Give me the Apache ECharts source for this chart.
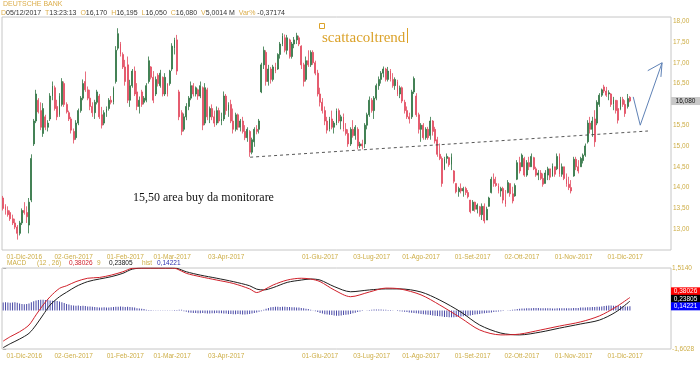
<!DOCTYPE html>
<html><head><meta charset="utf-8">
<script src="https://cdn.jsdelivr.net/npm/echarts@6.0.0/dist/echarts.min.js"></script>
<style>html,body{margin:0;padding:0;background:#fff}#c{width:700px;height:365px}</style>
</head><body><div id="c"></div>
<script>
// ---------- DATA ----------
const opens = [
13.75,13.55,13.45,13.40,13.25,13.15,13.05,12.90,13.15,13.45,
13.40,13.10,13.70,15.05,15.60,16.10,15.85,15.30,15.70,15.45,
15.65,16.20,16.40,15.95,15.75,16.00,16.50,16.00,15.80,15.65,
15.35,15.20,15.55,15.85,16.15,16.55,16.35,16.15,15.95,15.80,
16.05,16.20,15.75,15.55,15.80,15.90,16.10,16.05,16.55,17.35,
17.45,17.20,16.90,16.95,16.10,16.45,16.80,16.30,15.95,16.30,
16.05,16.10,16.55,16.90,16.65,16.25,16.70,16.45,16.65,16.25,
16.50,16.50,16.85,17.35,17.55,16.30,15.80,15.40,15.70,15.95,
16.15,16.45,16.25,16.35,16.20,16.40,15.55,16.35,15.70,15.90,
15.70,15.55,15.85,15.60,15.65,16.20,15.85,16.00,15.60,15.40,
15.75,15.45,15.60,15.35,15.20,15.35,14.85,15.10,15.40,15.40,
16.30,16.95,17.25,16.55,16.85,16.60,16.90,16.85,17.20,17.45,
17.60,17.30,17.55,17.15,17.45,17.55,17.60,17.40,16.95,16.60,
17.05,16.95,17.25,17.00,16.75,16.25,16.05,15.85,15.60,15.40,
15.65,15.45,15.55,15.85,15.60,15.70,15.40,15.30,15.05,15.40,
15.25,15.40,15.00,15.05,15.05,15.50,15.75,16.10,15.85,16.15,
16.45,16.60,16.75,16.85,16.60,16.80,16.60,16.45,16.55,16.25,
16.40,16.05,15.85,15.70,15.70,16.30,16.20,15.75,15.40,15.50,
15.20,15.40,15.25,15.60,15.40,15.15,14.80,14.70,14.45,14.70,
14.72,14.55,14.40,14.10,13.90,13.98,13.92,13.98,13.88,13.70,
13.45,13.65,13.48,13.54,13.35,13.55,13.22,13.55,13.88,14.20,
14.10,14.05,13.92,13.98,13.70,13.88,14.10,13.85,13.80,14.20,
14.60,14.50,14.70,14.30,14.60,14.50,14.72,14.45,14.30,14.35,
14.22,14.10,14.30,14.45,14.28,14.50,14.45,14.75,14.32,14.50,
14.22,14.08,14.00,14.28,14.68,14.50,14.50,14.65,14.78,15.10,
15.55,15.40,15.65,15.55,16.00,16.22,16.42,16.32,16.25,16.25,
16.00,16.10,15.90,15.88,16.12,16.00,15.95,16.17];
const highs = [
13.80,13.60,13.55,13.45,13.35,13.25,13.10,13.20,13.50,13.65,
13.55,13.75,14.80,15.65,16.35,16.15,16.05,16.03,15.75,15.62,
16.27,16.55,16.45,16.11,16.27,16.63,16.55,16.05,15.85,15.70,
15.42,15.62,15.90,16.20,16.60,16.79,16.43,16.35,16.05,16.11,
16.35,16.25,15.94,15.86,15.95,16.15,16.20,16.43,17.40,17.83,
17.50,17.25,17.07,17.15,16.59,16.85,16.91,16.51,16.19,16.35,
16.20,16.51,17.15,16.92,16.80,16.67,16.75,16.83,16.67,16.75,
16.51,16.83,17.47,17.60,17.67,16.35,15.86,15.78,16.03,16.20,
16.55,16.51,16.43,16.38,16.55,16.43,16.51,16.40,15.95,16.00,
15.85,15.95,15.92,15.80,16.31,16.25,16.05,16.11,15.90,15.80,
15.78,15.65,15.70,15.50,15.45,15.38,15.20,15.45,15.50,15.65,
17.00,17.39,17.30,16.95,16.90,16.95,17.00,17.23,17.50,17.71,
17.68,17.67,17.58,17.50,17.62,17.72,17.65,17.42,17.00,17.15,
17.30,17.30,17.30,17.05,16.83,16.40,16.15,15.95,15.70,15.70,
15.85,15.60,15.90,15.90,15.75,15.78,15.55,15.40,15.45,15.62,
15.50,15.45,15.10,15.15,15.55,15.80,16.19,16.15,16.20,16.50,
16.67,16.80,16.91,16.88,16.90,16.85,16.75,16.65,16.59,16.45,
16.43,16.11,15.95,15.80,16.35,16.67,16.27,15.80,15.55,15.55,
15.45,15.46,15.70,15.62,15.46,15.22,15.06,14.75,14.74,14.82,
14.74,14.82,14.42,14.10,14.02,14.10,14.02,14.02,13.94,13.70,
13.70,13.66,13.62,13.56,13.62,13.62,13.54,13.78,14.26,14.34,
14.26,14.10,14.02,14.02,13.94,14.18,14.10,14.02,14.10,14.66,
14.74,14.82,14.74,14.66,14.74,14.82,14.74,14.50,14.42,14.42,
14.34,14.42,14.50,14.45,14.58,14.50,14.82,14.82,14.58,14.50,
14.34,14.26,14.18,14.74,14.74,14.66,14.74,14.82,15.06,15.62,
15.70,15.70,15.86,16.10,16.27,16.38,16.47,16.42,16.34,16.27,
16.18,16.10,16.10,16.18,16.18,16.10,16.25,16.195];
const lows = [
13.45,13.35,13.30,13.20,13.10,13.00,12.75,12.85,13.10,13.35,
13.15,12.90,13.65,15.00,15.55,15.78,15.38,15.22,15.38,15.35,
15.60,16.10,15.85,15.62,15.70,15.95,15.94,15.78,15.60,15.30,
15.06,15.15,15.50,15.80,16.10,16.30,16.10,15.86,15.70,15.65,
16.00,15.65,15.42,15.50,15.70,15.85,16.00,16.00,16.50,17.30,
17.15,16.85,16.45,16.03,15.94,16.40,16.20,15.86,15.78,15.94,
16.00,16.05,16.50,16.60,16.03,16.20,16.43,16.40,16.19,16.20,
16.19,16.45,16.80,17.20,16.71,15.62,15.26,15.35,15.62,15.86,
16.10,16.19,16.19,16.11,16.15,15.38,15.50,15.62,15.55,15.62,
15.46,15.50,15.55,15.50,15.60,15.75,15.70,15.55,15.30,15.35,
15.38,15.35,15.30,15.14,15.10,14.74,14.80,14.98,15.28,15.30,
16.27,16.85,16.45,16.45,16.50,16.55,16.75,16.83,17.10,17.40,
17.25,17.20,17.10,17.10,17.35,17.45,17.40,16.85,16.43,16.55,
16.90,16.90,16.95,16.70,16.19,15.95,15.78,15.50,15.30,15.35,
15.40,15.30,15.50,15.55,15.40,15.35,15.25,14.98,15.00,15.20,
15.15,14.92,14.95,14.92,14.95,15.40,15.70,15.80,15.65,16.10,
16.35,16.50,16.65,16.55,16.55,16.55,16.40,16.35,16.20,16.15,
16.03,15.78,15.65,15.54,15.65,16.25,15.70,15.30,15.10,15.15,
15.15,15.15,15.15,15.25,15.06,14.74,14.66,14.02,14.42,14.58,
14.50,14.42,14.10,13.86,13.78,13.86,13.78,13.82,13.74,13.38,
13.45,13.42,13.38,13.30,13.22,13.14,13.22,13.54,13.86,14.02,
14.02,13.86,13.78,13.62,13.54,13.86,13.78,13.62,13.78,14.18,
14.34,14.50,14.26,14.26,14.42,14.50,14.42,14.26,14.18,14.18,
14.02,14.10,14.18,14.18,14.26,14.26,14.42,14.26,14.26,14.18,
14.02,13.94,13.86,14.26,14.42,14.34,14.50,14.58,14.74,15.06,
15.30,15.22,14.98,15.50,15.94,16.18,16.27,16.18,16.10,15.94,
15.86,15.78,15.54,15.86,15.94,15.70,15.90,16.05];
const closes = [
13.50,13.45,13.35,13.25,13.15,13.05,12.90,13.15,13.45,13.40,
13.30,13.65,14.70,15.60,16.25,15.82,15.45,15.90,15.45,15.55,
16.20,16.45,15.90,15.70,16.20,16.55,16.00,15.82,15.65,15.38,
15.15,15.55,15.85,16.15,16.50,16.35,16.15,15.95,15.80,16.05,
16.30,15.70,15.50,15.80,15.90,16.10,16.05,16.40,17.30,17.70,
17.20,16.90,16.55,16.10,16.45,16.80,16.25,15.95,16.10,16.00,
16.15,16.45,17.05,16.65,16.10,16.60,16.50,16.75,16.25,16.65,
16.25,16.80,17.40,17.55,16.80,15.70,15.35,15.70,15.95,16.15,
16.45,16.25,16.40,16.20,16.45,15.50,16.40,15.70,15.90,15.70,
15.55,15.85,15.60,15.65,16.20,15.85,16.00,15.60,15.40,15.75,
15.45,15.60,15.35,15.20,15.40,14.85,15.15,15.40,15.35,15.60,
16.95,17.30,16.55,16.85,16.60,16.90,16.80,17.20,17.45,17.65,
17.30,17.60,17.15,17.45,17.55,17.65,17.45,16.95,16.55,17.05,
16.95,17.25,17.00,16.75,16.25,16.05,15.85,15.60,15.38,15.65,
15.45,15.55,15.85,15.60,15.70,15.40,15.30,15.05,15.40,15.25,
15.45,15.00,15.05,15.00,15.50,15.75,16.10,15.85,16.15,16.45,
16.60,16.75,16.85,16.60,16.80,16.60,16.45,16.60,16.25,16.40,
16.08,15.85,15.70,15.65,16.30,16.62,15.75,15.40,15.50,15.20,
15.40,15.20,15.60,15.35,15.12,14.80,14.70,14.10,14.70,14.75,
14.55,14.75,14.15,13.90,13.98,13.92,13.98,13.88,13.78,13.42,
13.65,13.48,13.58,13.35,13.55,13.20,13.48,13.75,14.20,14.10,
14.05,13.92,13.98,13.70,13.60,14.12,13.85,13.68,14.05,14.60,
14.40,14.78,14.30,14.60,14.50,14.75,14.45,14.30,14.35,14.22,
14.08,14.35,14.45,14.25,14.52,14.32,14.75,14.32,14.50,14.22,
14.08,14.00,13.92,14.68,14.50,14.40,14.70,14.78,15.00,15.55,
15.40,15.60,15.10,16.05,16.22,16.35,16.32,16.22,16.28,16.00,
16.12,15.85,15.62,16.12,16.00,15.78,16.14,16.08];

// MACD (red) and signal (black) read at bar positions [barIndex, value]
const macdLine = [[0,-1.30],[3,-1.13],[7,-0.94],[11,-0.68],[14,-0.29],[17,0.09],[20,0.41],[24,0.73],[27,0.83],[31,0.99],[36,1.12],[41,1.15],[46,1.24],[51,1.37],[55,1.50],[60,1.51],[72,1.51],[74,1.48],[78,1.31],[84,1.18],[91,1.05],[98,0.92],[105,0.71],[108,0.57],[111,0.67],[115,0.86],[121,1.05],[127,1.12],[131,1.09],[135,0.99],[141,0.67],[148,0.41],[156,0.59],[163,0.74],[169,0.71],[178,0.48],[186,0.09],[195,-0.41],[203,-0.87],[212,-1.06],[220,-1.03],[229,-0.87],[237,-0.72],[246,-0.56],[254,-0.33],[261,0.01],[267,0.38026]];
const signalLine = [[0,-1.55],[3,-1.40],[7,-1.22],[11,-1.00],[14,-0.68],[17,-0.29],[20,0.09],[24,0.41],[27,0.58],[31,0.80],[36,0.99],[41,1.09],[46,1.18],[51,1.31],[55,1.47],[60,1.51],[72,1.51],[74,1.50],[78,1.37],[84,1.24],[91,1.12],[98,0.99],[105,0.83],[108,0.70],[111,0.67],[115,0.76],[121,0.96],[127,1.05],[131,1.09],[135,1.05],[141,0.80],[148,0.60],[156,0.67],[163,0.71],[169,0.71],[178,0.59],[186,0.28],[195,-0.18],[203,-0.68],[212,-0.99],[220,-1.06],[229,-0.95],[237,-0.80],[246,-0.64],[254,-0.49],[261,-0.18],[267,0.23805]];
const histValues = [
0.27,0.28,0.27,0.26,0.27,0.28,0.26,0.24,0.22,0.21,0.22,0.24,0.28,
0.31,0.34,0.35,0.36,0.36,0.35,0.36,0.34,0.33,0.34,0.32,0.30,0.28,
0.25,0.22,0.20,0.18,0.17,0.16,0.17,0.15,0.16,0.15,0.14,0.14,0.13,
0.12,0.11,0.10,0.10,0.11,0.10,0.10,0.11,
0.12,0.13,0.13,0.14,0.13,0.12,0.13,0.12,0.11,0.10,
0.08,0.07,0.06,0.05,
0.03,0.02,0.02,0.01,0.01,0.01,0.01,0.01,0.01,0.01,0.01,0.01,0.02,0.02,0.03,0.03,
-0.02,-0.04,-0.06,-0.07,-0.08,-0.08,-0.09,-0.09,-0.08,-0.09,-0.10,-0.10,-0.09,-0.09,-0.08,-0.09,-0.09,-0.10,-0.10,-0.11,-0.11,-0.12,-0.12,-0.11,-0.12,-0.13,-0.13,-0.12,-0.11,-0.10,-0.08,-0.06,-0.04,-0.02,
0.03,0.06,0.09,0.11,0.12,0.13,0.13,0.12,0.13,0.13,0.12,0.12,0.11,0.11,0.10,0.10,0.09,0.08,0.06,0.05,0.03,0.01,
-0.02,-0.05,-0.08,-0.10,-0.12,-0.13,-0.14,-0.15,-0.16,-0.17,-0.17,-0.16,-0.15,-0.14,-0.13,-0.11,
-0.09,-0.07,-0.05,-0.03,-0.01,0.00,0.01,0.02,0.03,0.04,0.04,0.04,0.04,0.03,0.03,0.02,0.02,0.01,0.00,-0.01,-0.02,-0.03,
-0.04,-0.05,-0.06,-0.07,-0.08,-0.09,-0.10,-0.11,-0.12,-0.13,-0.14,-0.15,-0.16,-0.17,-0.18,-0.19,-0.20,-0.21,-0.21,-0.22,-0.22,-0.22,-0.21,-0.21,-0.20,-0.19,-0.18,-0.17,-0.16,-0.15,-0.13,-0.12,-0.11,-0.10,-0.09,-0.08,-0.07,-0.06,-0.05,-0.04,-0.03,
-0.02,-0.01,0.00,0.01,0.02,0.03,0.04,0.05,0.06,0.07,0.07,0.08,0.08,0.08,0.09,0.09,0.09,0.08,0.08,0.08,0.08,0.08,0.07,0.07,0.08,0.08,0.08,0.08,0.08,0.08,0.08,0.09,0.09,0.09,0.10,0.10,0.10,0.11,0.11,0.12,0.12,0.13,0.13,0.14,0.15,0.16,0.17,0.17,0.16,0.16,0.15,0.15,0.14,0.14,0.14,0.14221];

const tickLabels = ['01-Dic-2016','02-Gen-2017','01-Feb-2017','01-Mar-2017','03-Apr-2017','01-Giu-2017','03-Lug-2017','01-Ago-2017','01-Set-2017','02-Ott-2017','01-Nov-2017','01-Dic-2017'];
const holidays = ['2016-12-26','2017-04-14','2017-04-17','2017-05-01','2017-08-15','2017-12-25','2017-12-26','2018-01-01'];
const monthNames = ['Gen','Feb','Mar','Apr','Mag','Giu','Lug','Ago','Set','Ott','Nov','Dic'];
const firstDay = '2016-11-18';
const futureBars = 17;
const macdRange = [-1.6028, 1.5140];
const histRange = [-1.28, 1.42];
// hand-drawn annotations, in [barIndex, price]
const trendLine = [[105.2,14.73],[274.7,15.36]];
const arrowPath = [[268.4,16.18],[271.4,15.50],[280.7,17.00]];
const arrowHeadA = [[274.6,16.81],[280.7,17.00]];
const arrowHeadB = [[280.2,16.66],[280.7,17.00]];

// ---------- BUILD ----------
function tradingDays(startISO, count) {
  const out = [];
  const d = new Date(startISO + 'T00:00:00Z');
  while (out.length < count) {
    const dow = d.getUTCDay();
    const iso = d.toISOString().slice(0, 10);
    if (dow !== 0 && dow !== 6 && holidays.indexOf(iso) < 0) {
      out.push(String(d.getUTCDate()).padStart(2,'0') + '-' + monthNames[d.getUTCMonth()] + '-' + d.getUTCFullYear());
    }
    d.setUTCDate(d.getUTCDate() + 1);
  }
  return out;
}
const cats = tradingDays(firstDay, closes.length + futureBars);
const candles = closes.map((c, i) => [opens[i], c, lows[i], highs[i]]);
const last = closes.length - 1;
const GOLD = '#cdad45';
const HGOLD = '#dcae4c';
const SANS = '"Liberation Sans", Arial, sans-serif';
const SERIF = '"Liberation Serif", "Times New Roman", serif';
const fmt = (v, d) => v.toFixed(d).replace('.', ',');
const UP = '#2f7443', DOWN = '#e24a5e';

const catAxis = (g) => ({
  type: 'category', gridIndex: g, data: cats,
  axisLine: {show: false}, axisTick: {show: false}, splitLine: {show: false},
  axisLabel: {interval: (i, v) => tickLabels.indexOf(v) >= 0, color: GOLD, fontSize: 6.5, fontFamily: SANS, margin: 4}
});
const valX = (g) => ({type: 'value', gridIndex: g, min: -0.5, max: cats.length - 0.5, show: false});

const chart = echarts.init(document.getElementById('c'), null, {renderer: 'canvas'});
chart.setOption({
  animation: false,
  backgroundColor: '#ffffff',
  grid: [
    {left: 2, right: 29, top: 17, height: 233, show: true, borderColor: '#c6c6c6', borderWidth: 1, outerBoundsMode: 'none'},
    {left: 2, right: 29, top: 268, height: 81, show: true, borderColor: '#c6c6c6', borderWidth: 1, outerBoundsMode: 'none'}
  ],
  xAxis: [catAxis(0), catAxis(1), valX(0), valX(1)],
  yAxis: [
    {type: 'value', gridIndex: 0, position: 'right', min: 12.5, max: 18.1, interval: 0.5,
     axisLine: {show: false}, axisTick: {show: false}, splitLine: {show: false},
     axisLabel: {color: GOLD, fontSize: 6.5, fontFamily: SANS, margin: 2,
       formatter: v => (v < 12.9 || v > 18.01 || Math.abs(v - 16) < 1e-6) ? '' : fmt(v, 2)}},
    {type: 'value', gridIndex: 1, position: 'right', min: macdRange[0], max: macdRange[1], interval: macdRange[1] - macdRange[0],
     axisLine: {show: false}, axisTick: {show: true, length: 3, lineStyle: {color: '#b0b0b0'}}, splitLine: {show: false},
     axisLabel: {color: GOLD, fontSize: 6.5, fontFamily: SANS, margin: 1, formatter: v => fmt(v, 4)}},
    {type: 'value', gridIndex: 1, position: 'left', min: histRange[0], max: histRange[1], show: false}
  ],
  series: [
    {type: 'candlestick', xAxisIndex: 0, yAxisIndex: 0, data: candles, barWidth: 1.4,
     itemStyle: {color: UP, color0: DOWN, borderColor: UP, borderColor0: DOWN, borderWidth: 0.8}},
    {type: 'line', xAxisIndex: 2, yAxisIndex: 0, data: trendLine, symbol: 'none', silent: true,
     lineStyle: {color: '#444', width: 0.9, type: [3, 3]}},
    {type: 'line', xAxisIndex: 2, yAxisIndex: 0, data: arrowPath, symbol: 'none', silent: true,
     lineStyle: {color: '#5f82b6', width: 1}},
    {type: 'line', xAxisIndex: 2, yAxisIndex: 0, data: arrowHeadA, symbol: 'none', silent: true,
     lineStyle: {color: '#5f82b6', width: 1}},
    {type: 'line', xAxisIndex: 2, yAxisIndex: 0, data: arrowHeadB, symbol: 'none', silent: true,
     lineStyle: {color: '#5f82b6', width: 1}},
    {type: 'bar', xAxisIndex: 1, yAxisIndex: 2, data: histValues, barWidth: 1, silent: true,
     itemStyle: {color: '#4848a6'}},
    {type: 'line', xAxisIndex: 3, yAxisIndex: 1, data: signalLine, symbol: 'none', smooth: 0.3, silent: true,
     lineStyle: {color: '#1e1e1e', width: 1}},
    {type: 'line', xAxisIndex: 3, yAxisIndex: 1, data: macdLine, symbol: 'none', smooth: 0.3, silent: true,
     lineStyle: {color: '#d0202a', width: 1}}
  ]
});

// ---------- TEXT & BADGES ----------
const yHist = chart.convertToPixel({yAxisIndex: 2}, histValues[last]);
const yClose = chart.convertToPixel({yAxisIndex: 0}, closes[last]);
const badge = (cy, bg, fg, txtS) => ([
  {type: 'rect', shape: {x: 671, y: cy - 4, width: 29, height: 8}, style: {fill: bg}, silent: true, z: 100},
  {type: 'text', x: 685.5, y: cy, z: 101, style: {text: txtS, fill: fg, font: '6.5px ' + SANS, align: 'center', verticalAlign: 'middle'}, silent: true}
]);
const macdLast = macdLine[macdLine.length - 1][1];
const sigLast = signalLine[signalLine.length - 1][1];
const txt = (x, y, s, fill, font) => ({type: 'text', x: x, y: y, silent: true,
  style: {text: s, fill: fill, font: font || ('6.5px ' + SANS), verticalAlign: 'middle'}});

const graphics = [
  txt(3, 4, 'DEUTSCHE BANK', HGOLD, '7px ' + SANS),
  {type: 'text', x: 1, y: 13, silent: true, style: {
    text: '{g|D}{k|05/12/2017}  {g|T}{k|13:23:13}  {g|O}{k|' + fmt(opens[last], 3) + '}  {g|H}{k|' + fmt(highs[last], 3) +
          '}  {g|L}{k|' + fmt(lows[last], 3) + '}  {g|C}{k|' + fmt(closes[last], 3) + '}  {g|V}{k|5,0014 M}  {g|Var%} {k|-0,37174}',
    verticalAlign: 'middle', font: '7px ' + SANS,
    rich: {g: {fill: HGOLD, font: '7px ' + SANS}, k: {fill: '#333', font: '7px ' + SANS}}}},
  txt(7, 263, 'MACD', GOLD),
  txt(37, 263, '(12 , 26)', GOLD),
  txt(69, 263, fmt(macdLast, 5), '#d0202a'),
  txt(97, 263, '9', GOLD),
  txt(109, 263, fmt(sigLast, 5), '#111'),
  txt(142, 263, 'hist', GOLD),
  txt(157, 263, fmt(histValues[last], 5), '#3030b0'),
  txt(322, 38, 'scattacoltrend', '#dba22a', '15px ' + SERIF),
  {type: 'rect', shape: {x: 319.5, y: 23.5, width: 5, height: 5}, style: {fill: 'none', stroke: '#dba22a', lineWidth: 1}, silent: true},
  {type: 'line', shape: {x1: 407.5, y1: 28, x2: 407.5, y2: 43}, style: {stroke: '#dba22a', lineWidth: 1}, silent: true},
  txt(133, 198, '15,50 area buy da monitorare', '#111', '12px ' + SERIF)
].concat(badge(yClose, '#c8c8c8', '#111', fmt(closes[last], 3)))
 .concat(badge(yHist - 15, '#ff0000', '#fff', fmt(macdLast, 5)))
 .concat(badge(yHist - 7.5, '#000000', '#fff', fmt(sigLast, 5)))
 .concat(badge(yHist, '#0000ff', '#fff', fmt(histValues[last], 5)));
chart.setOption({graphic: graphics});
</script></body></html>
